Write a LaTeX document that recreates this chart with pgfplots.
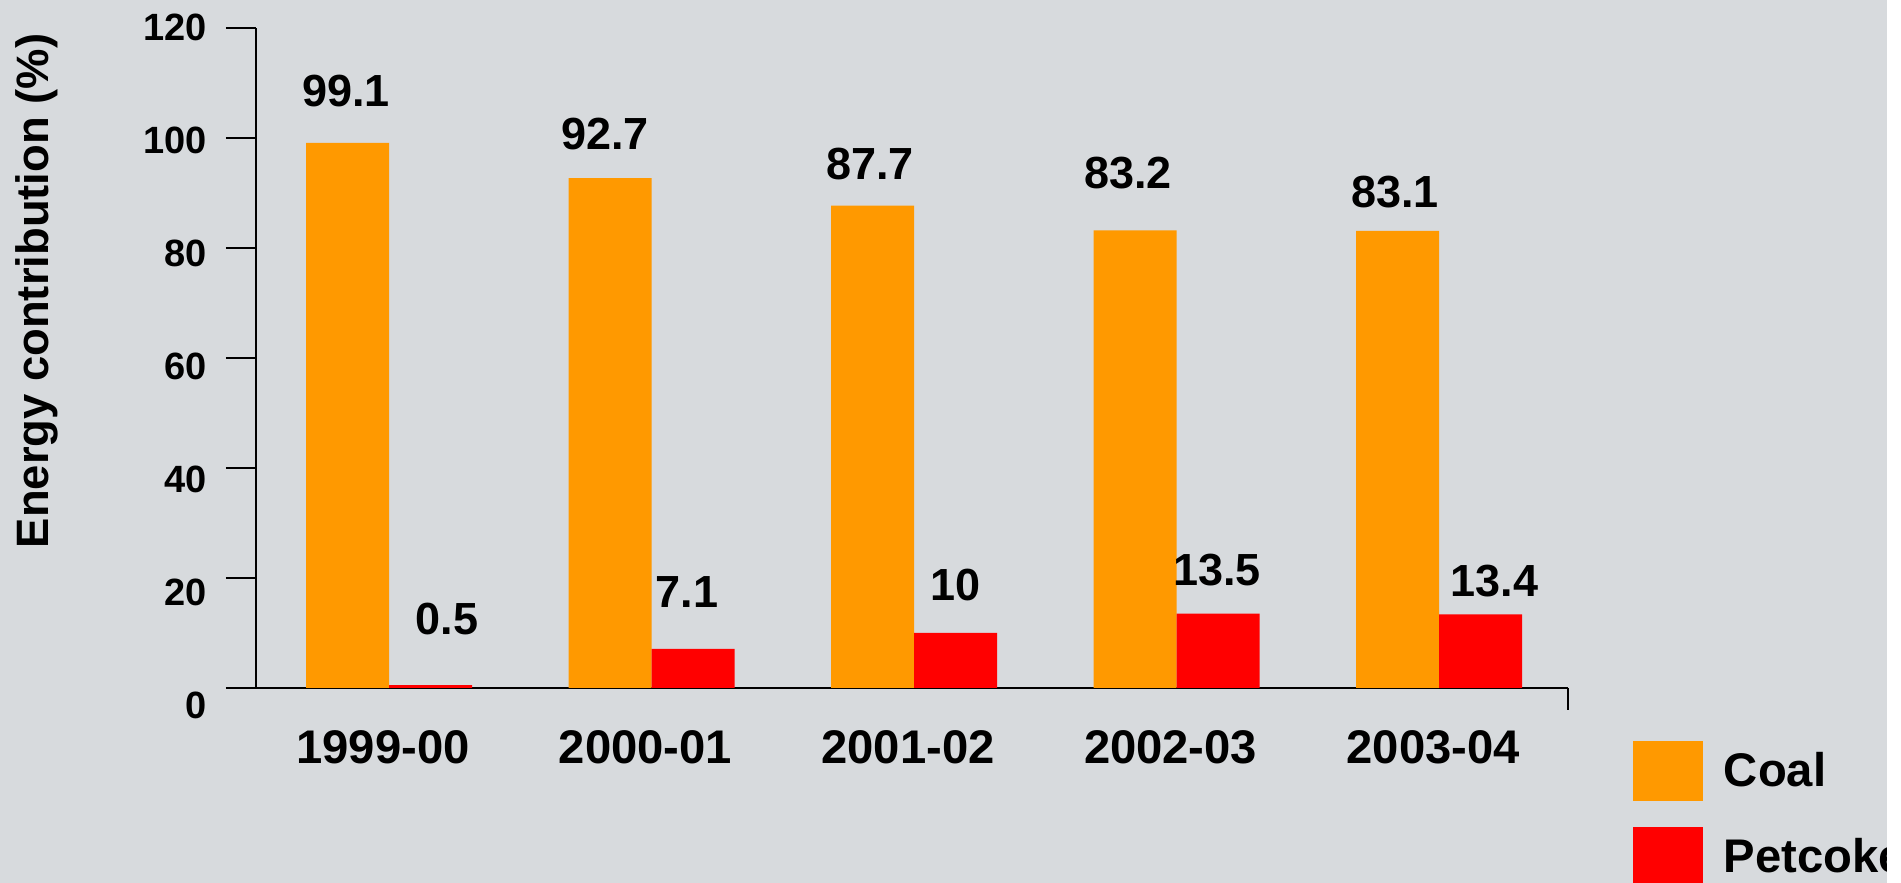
\documentclass[border=0pt]{standalone}
\usepackage{fontspec}
\setmainfont{Liberation Sans}
\usepackage{pgfplots}
\pgfplotsset{compat=1.18}
\definecolor{coalc}{RGB}{255,153,0}
\definecolor{petc}{RGB}{255,0,0}
\definecolor{bgc}{RGB}{215,218,221}
\newcommand\fs[1]{\fontsize{#1}{#1}\selectfont\bfseries}
\begin{document}
\begin{tikzpicture}
\useasboundingbox (0,0) rectangle (950.5pt,441.5pt);
\clip (0,0) rectangle (950.5pt,441.5pt);
\fill[bgc] (0,0) rectangle (950.5pt,441.5pt);
\begin{axis}[
  at={(128pt,97.5pt)}, anchor=south west,
  scale only axis, width=656pt, height=330pt,
  xmin=-0.507, xmax=4.491, ymin=0, ymax=120,
  clip=false,
  axis x line*=bottom, axis y line*=left,
  axis line style={line width=1pt, black, -},
  ytick={0,20,...,120},
  xtick={0,1,2,3,4},
  xticklabels={1999-00,2000-01,2001-02,2002-03,2003-04},
  tick align=outside, major tick length=15pt,
  ytick style={line width=1pt, black},
  xtick style={draw=none},
  /pgf/number format/assume math mode=true,
  yticklabel={\pgfmathsetmacro\sh{1.5*\ticknum-8.5}\raisebox{\sh pt}[0.716em][0pt]{\pgfmathprintnumber{\tick}}},
  yticklabel style={font=\fs{19}, anchor=east, inner sep=0pt, xshift=-9.5pt},
  xticklabel style={font=\fs{23.6}, anchor=base, inner sep=0pt, yshift=-22.5pt, xshift=-3pt},
  legend style={at={(1.0495,-0.0803)}, anchor=north west, draw=none, fill=none,
    inner sep=0pt, outer sep=0pt, row sep=13pt, column sep=10.5pt,
    font=\fs{23.6}, nodes={inner sep=0pt}},
  legend cell align=left,
]
\addplot[ybar, bar width=0.316, bar shift=-0.158, fill=coalc, draw=none,
  legend image code/.code={\fill[coalc] (0pt,-15pt) rectangle (35pt,15pt);}]
  coordinates {(0,99.1) (1,92.7) (2,87.7) (3,83.2) (4,83.1)};
\addlegendentry{Coal}
\addplot[ybar, bar width=0.316, bar shift=0.158, fill=petc, draw=none,
  legend image code/.code={\fill[petc] (0pt,-15pt) rectangle (35pt,15pt);}]
  coordinates {(0,0.5) (1,7.1) (2,10) (3,13.5) (4,13.4)};
\addlegendentry{Petcoke}
\addplot[only marks, mark=none, forget plot, nodes near coords,
  point meta=explicit symbolic,
  nodes near coords style={anchor=center, inner sep=0pt, font=\fs{22.5}}]
  table[meta=lab] {
x y lab
-0.164 108.5 99.1
0.823 100.7 92.7
1.832 95.2 87.7
2.815 93.6 83.2
3.832 90.2 83.1
0.221 12.6 0.5
1.135 17.4 7.1
2.156 18.7 10
3.154 21.5 13.5
4.210 19.4 13.4
};
\draw[line width=1pt] (axis cs:4.491,0) -- ([yshift=-11pt]axis cs:4.491,0);
\end{axis}
\node[rotate=90, font=\fs{22.7}, inner sep=0pt] at (18.25pt,296pt) {Energy contribution (\%)};
\fill[white] (943.5pt,0) rectangle (950.5pt,441.5pt);
\end{tikzpicture}
\end{document}
